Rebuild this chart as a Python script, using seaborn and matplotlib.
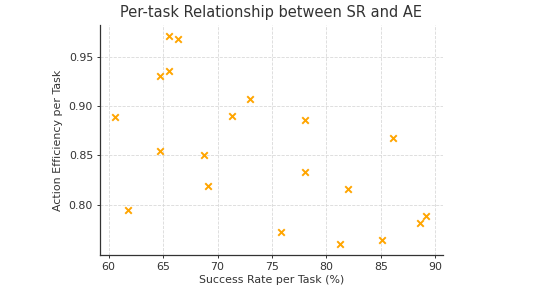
import numpy as np
import pandas as pd
import matplotlib
matplotlib.use('Agg')
import matplotlib.pyplot as plt
import seaborn as sns

# per-task values
success_rate = [60.6, 61.8, 64.7, 65.5, 65.5, 66.4, 64.7, 68.8, 69.1, 71.3,
                73.0, 75.8, 78.0, 78.0, 86.1, 82.0, 81.3, 85.1, 88.6, 89.2]
action_eff = [0.889, 0.795, 0.930, 0.935, 0.971, 0.968, 0.854, 0.850, 0.819, 0.890,
              0.907, 0.772, 0.886, 0.833, 0.868, 0.816, 0.760, 0.764, 0.782, 0.789]
x_ticks = [60, 65, 70, 75, 80, 85, 90]
y_ticks = [0.80, 0.85, 0.90, 0.95]

df = pd.DataFrame({'sr': success_rate, 'ae': action_eff})

sns.set_style('white')
plt.rcParams['font.family'] = ['DejaVu Sans']
text_col = '#333333'

fig = plt.figure(figsize=(5.48, 2.86), dpi=100)
ax = fig.add_axes([0.1825, 0.108, 0.6255, 0.805])

sns.scatterplot(data=df, x='sr', y='ae', marker='x', color='#FFA500',
                s=22, linewidth=1.4, ax=ax, zorder=3)

ax.set_xlim(59.2, 90.7)
ax.set_ylim(0.749, 0.982)
ax.set_xticks(x_ticks)
ax.set_yticks(y_ticks)
ax.set_yticklabels([f'{v:.2f}' for v in y_ticks])
ax.grid(True, linestyle='--', color='#d9d9d9', linewidth=0.6)
ax.set_axisbelow(True)

for side in ['top', 'right']:
    ax.spines[side].set_visible(False)
for side in ['left', 'bottom']:
    ax.spines[side].set_color('#333333')
    ax.spines[side].set_linewidth(0.9)

ax.tick_params(axis='both', direction='out', length=2.5, width=0.7,
               colors=text_col, labelsize=7.9, bottom=True, left=True, pad=2.5)
ax.set_xlabel('Success Rate per Task (%)', fontsize=7.9, color=text_col, labelpad=2)
ax.set_ylabel('Action Efficiency per Task', fontsize=7.9, color=text_col, labelpad=4)
ax.set_title('Per-task Relationship between SR and AE', fontsize=10.5, color=text_col, pad=6)

fig.savefig('out.png', dpi=100)
